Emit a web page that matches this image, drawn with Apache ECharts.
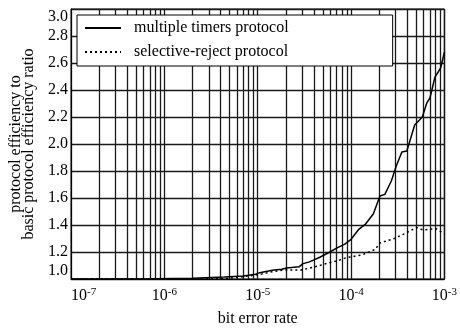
<!DOCTYPE html>
<html><head><meta charset="utf-8">
<script src="https://cdn.jsdelivr.net/npm/echarts@6/dist/echarts.min.js"></script>
<style>html,body{margin:0;padding:0;background:#fff}#c{width:460px;height:332px}</style>
</head><body><div id="c"></div>
<script>
var berMulti = [1e-7,5.0e-7,5.1e-7,2.0e-6,2.1e-6,4.4e-6,7.0e-6,9.5e-6,1.05e-5,1.43e-5,1.81e-5,2.04e-5,2.77e-5,3.05e-5,3.52e-5,3.96e-5,4.68e-5,5.93e-5,7.17e-5,8.5e-5,1.0e-4,1.21e-4,1.43e-4,1.73e-4,2.04e-4,2.3e-4,2.7e-4,3.05e-4,3.5e-4,3.96e-4,4.8e-4,5.8e-4,6.5e-4,7.0e-4,7.9e-4,9.1e-4,1.0e-3];
var effMulti = [1.0,1.0,1.004,1.005,1.011,1.015,1.022,1.036,1.047,1.065,1.072,1.082,1.09,1.114,1.125,1.14,1.163,1.2,1.232,1.257,1.294,1.368,1.407,1.481,1.615,1.627,1.726,1.837,1.941,1.948,2.141,2.2,2.307,2.341,2.493,2.563,2.681];
var berSel = [1e-7,2.0e-6,4.4e-6,7.0e-6,9.5e-6,1.1e-5,1.43e-5,1.95e-5,2.9e-5,3.5e-5,4.4e-5,5.8e-5,7.2e-5,8.9e-5,1.3e-4,1.81e-4,2.04e-4,2.91e-4,3.78e-4,5.02e-4,5.93e-4,8.07e-4,1.0e-3];
var effSel = [1.0,1.0,1.002,1.017,1.03,1.037,1.054,1.067,1.067,1.079,1.096,1.12,1.135,1.158,1.178,1.219,1.267,1.3,1.337,1.381,1.363,1.374,1.337];
var decades = [1e-7,1e-6,1e-5,1e-4];
var minorMult = [2,3,4,5,6,7,8,9];
var seriesNames = ['multiple timers protocol','selective-reject protocol'];
var yMin = 1, yMax = 3, yStep = 0.2;
var xMin = 1e-7, xMax = 1e-3;

var font = 'Liberation Serif, Times New Roman, serif';
var gridStyle = {color:'#1a1a1a',width:1.3,type:'solid'};
var minorLines = [];
decades.forEach(function(d){ minorMult.forEach(function(m){ minorLines.push({coords:[[d*m,yMin],[d*m,yMax]]}); }); });

function zip(a,b){ return a.map(function(v,i){ return [v,b[i]]; }); }

var chart = echarts.init(document.getElementById('c'), null, {renderer:'canvas'});
chart.setOption({
  animation:false,
  grid:{left:71,top:9,right:1,bottom:53,show:true,borderColor:'#000',borderWidth:1,backgroundColor:'transparent'},
  legend:{
    orient:'vertical', left:77, top:15,
    padding:[5,104,6,7], itemGap:8, itemWidth:36, itemHeight:14,
    backgroundColor:'#fff', borderColor:'#000', borderWidth:1,
    itemStyle:{color:'rgba(0,0,0,0)',borderWidth:0,opacity:0},
    textStyle:{fontFamily:font,fontSize:16,lineHeight:16,color:'#000',padding:[0,0,0,8]},
    data:seriesNames
  },
  xAxis:{
    type:'log', logBase:10, min:xMin, max:xMax,
    name:'bit error rate', nameLocation:'middle', nameGap:32,
    nameTextStyle:{fontFamily:font,fontSize:16,color:'#000'},
    axisLine:{show:true,lineStyle:{color:'#000',width:1}},
    axisTick:{show:false},
    splitLine:{show:true,lineStyle:gridStyle},
    axisLabel:{
      margin:8, alignMinLabel:'left', alignMaxLabel:'right',
      formatter:function(v){ return '{b|10}{s|' + Math.round(Math.log10(v)) + '}'; },
      rich:{
        b:{fontFamily:font,fontSize:16,color:'#000',lineHeight:18},
        s:{fontFamily:font,fontSize:11,color:'#000',verticalAlign:'top',lineHeight:10,padding:[0,0,6,0]}
      }
    }
  },
  yAxis:{
    type:'value', min:yMin, max:yMax, interval:yStep,
    name:'protocol efficiency to\nbasic protocol efficiency ratio',
    nameLocation:'middle', nameGap:35, nameRotate:90,
    nameTextStyle:{fontFamily:font,fontSize:16,color:'#000',lineHeight:13},
    axisLine:{show:true,lineStyle:{color:'#000',width:1}},
    axisTick:{show:false},
    splitLine:{show:true,lineStyle:gridStyle},
    axisLabel:{
      margin:3, fontFamily:font, fontSize:16, color:'#000',
      verticalAlignMinLabel:'bottom', verticalAlignMaxLabel:'top',
      formatter:function(v){ return v.toFixed(1); }
    }
  },
  series:[
    {name:'minor grid', type:'lines', coordinateSystem:'cartesian2d', polyline:false, silent:true, z:1,
     lineStyle:{color:gridStyle.color,width:gridStyle.width,opacity:1,type:'solid'}, data:minorLines},
    {name:seriesNames[0], type:'line', data:zip(berMulti,effMulti), symbol:'none', z:5,
     lineStyle:{color:'#000',width:1.5,type:'solid'}, itemStyle:{color:'#000'}},
    {name:seriesNames[1], type:'line', data:zip(berSel,effSel), symbol:'none', z:5,
     lineStyle:{color:'#000',width:1.5,type:[2,3]}, itemStyle:{color:'#000'}}
  ]
});
</script></body></html>
